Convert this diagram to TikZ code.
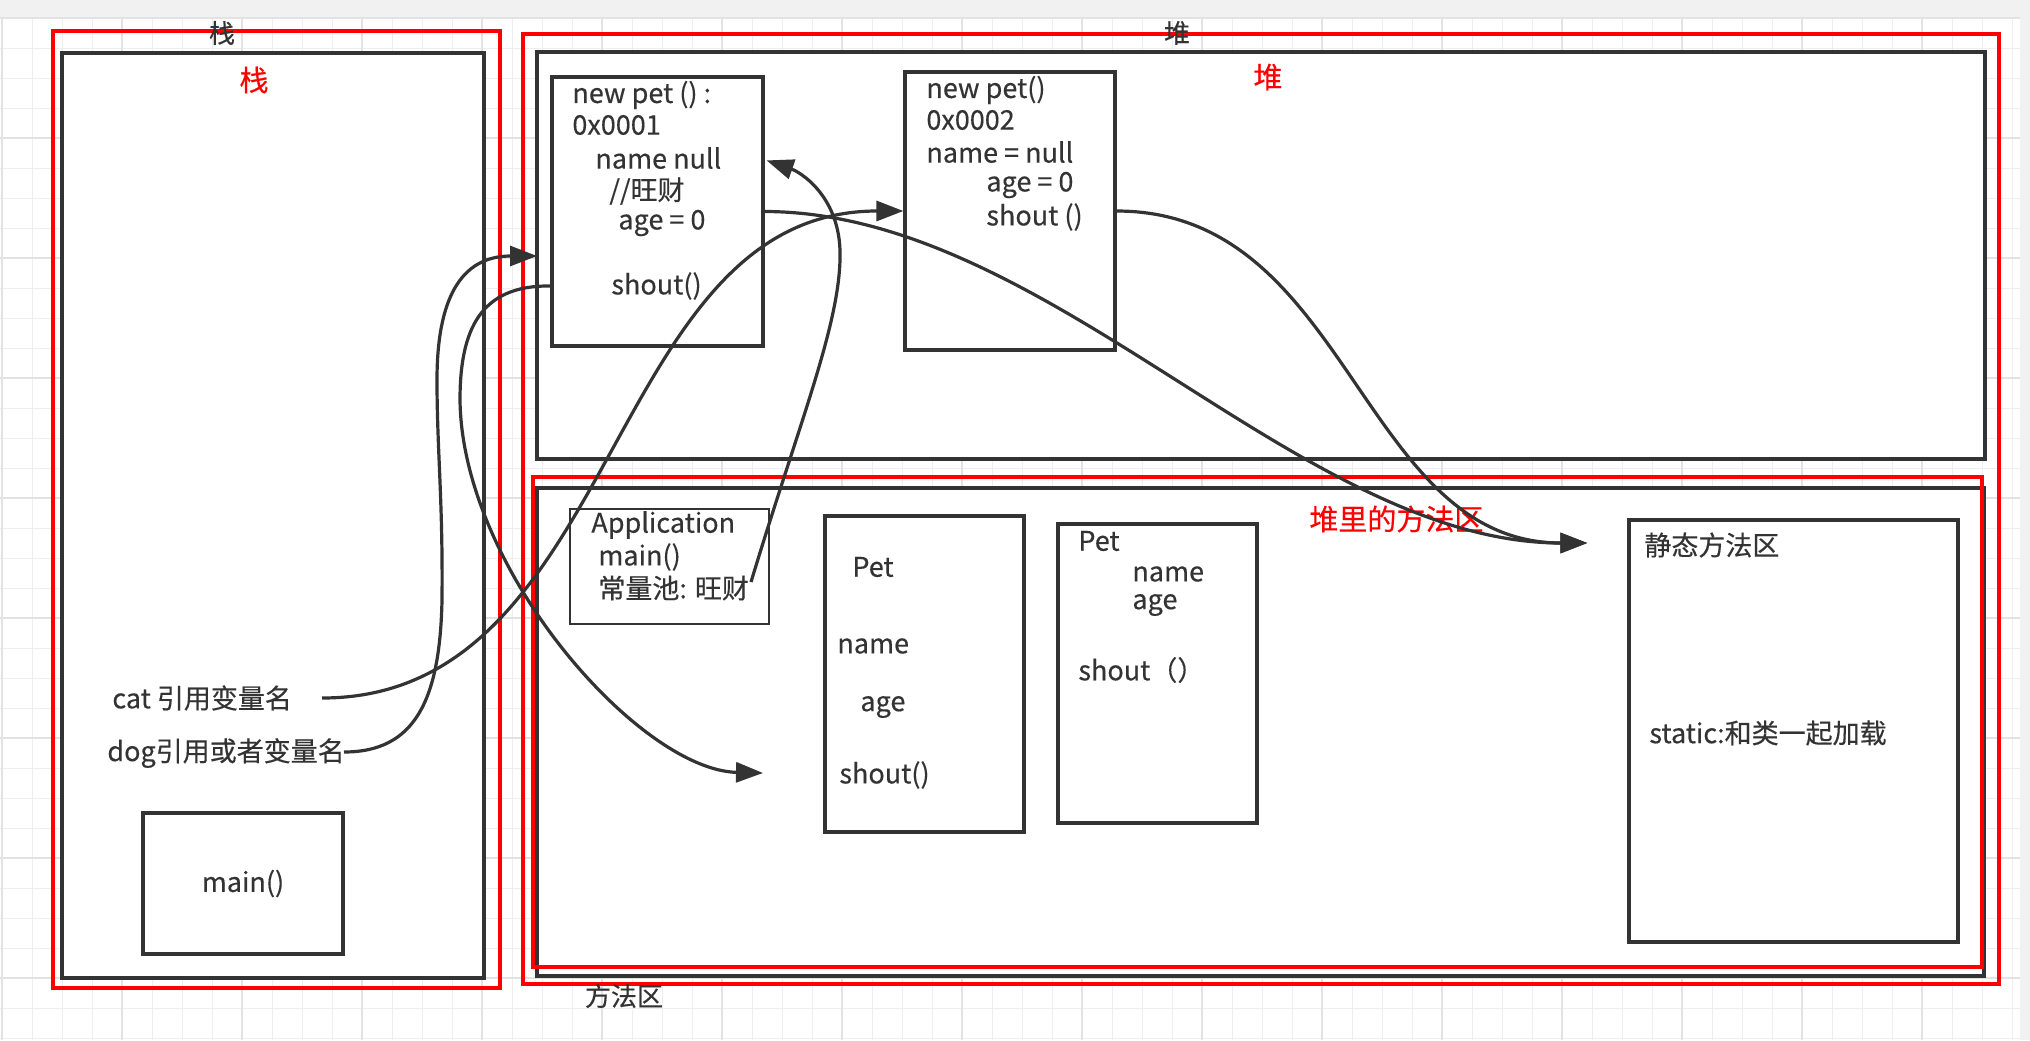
\documentclass[tikz,border=0pt]{standalone}
\usepackage{fontspec}
\setmainfont{Noto Sans CJK SC}[FakeBold=0.35]
\usetikzlibrary{arrows.meta,fit,calc}
\definecolor{dk}{HTML}{333333}
\definecolor{rd}{HTML}{FF0000}
\definecolor{gminor}{HTML}{EEEEEE}
\definecolor{gmajor}{HTML}{E2E2E2}
\definecolor{strip}{HTML}{F1F1F1}
\begin{document}
\begin{tikzpicture}[x=0.5pt,y=-0.5pt,
  box/.style={draw=dk, line width=1.6pt, fill=white, inner sep=0pt},
  thinbox/.style={draw=dk, line width=0.9pt, inner sep=0pt},
  redbox/.style={draw=rd, line width=1.6pt, inner sep=0pt},
  txt/.style={text=dk, font=\fontsize{13.5}{16}\selectfont, inner sep=0pt, anchor=west},
  lbl/.style={text=dk, font=\fontsize{13}{16}\selectfont, inner sep=0pt},
  redtxt/.style={text=rd, font=\fontsize{14.5}{17}\selectfont, inner sep=0pt},
  conn/.style={draw=dk, line width=1.6pt, -{Triangle[length=13.5pt,width=10pt]}}]
\useasboundingbox (0,0) rectangle (2030,1040);
% background and grid
\fill[white] (0,0) rectangle (2030,1040);
\foreach \xx in {2,32,...,2012} \draw[gminor, line width=0.5pt] (\xx,17) -- (\xx,1040);
\foreach \yy in {18,48,...,1038} \draw[gminor, line width=0.5pt] (0,\yy) -- (2020,\yy);
\foreach \xx in {2,122,...,1922} \draw[gmajor, line width=0.75pt] (\xx,17) -- (\xx,1040);
\foreach \yy in {18,138,...,978} \draw[gmajor, line width=0.75pt] (0,\yy) -- (2020,\yy);
\fill[strip] (0,0) rectangle (2030,17);
\fill[strip] (2020,0) rectangle (2030,1040);

% big regions
\node[box, fit={(62,53) (484,978)}] (stack) {};
\node[redbox, fit={(53,31) (500,988)}] (stackred) {};
\node[box, fit={(537,52) (1985,459)}] (heap) {};
\node[box, fit={(537,488) (1984,976)}] (method) {};
\node[redbox, fit={(533,477) (1982,967)}] (methodred) {};
\node[redbox, fit={(523,34) (1999,984)}] (heapred) {};

% inner boxes
\node[box, fit={(552,77) (763,346)}] (pet1) {};
\node[box, fit={(905,72) (1115,350)}] (pet2) {};
\node[thinbox, fit={(570,509) (769,624)}] (app) {};
\node[box, fit={(825,516) (1024,832)}] (petA) {};
\node[box, fit={(1058,524) (1257,823)}] (petB) {};
\node[box, fit={(1629,520) (1958,942)}] (static) {};
\node[box, fit={(143,813) (343,954)}] (mainbox) {};

% region labels
\node[lbl] (stacklbl) at (222,33) {栈};
\node[redtxt] (stackredlbl) at (254,80) {栈};
\node[lbl] (heaplbl) at (1177,33) {堆};
\node[redtxt] (heapredlbl) at (1268,77) {堆};
\node[lbl] (methodlbl) at (624,996) {方法区};
\node[redtxt, anchor=west] (heapmethod) at (1309,519) {堆里的方法区};

% stack texts
\node[txt] (cat) at (112,698) {cat 引用变量名};
\node[txt] (dog) at (107,753) {dog引用或者变量名};
\node[txt, anchor=center] (mainm) at (mainbox.center) {main()};

% pet1
\node[txt] (p1a) at (572,95) {new pet () :};
\node[txt] (p1b) at (572,125) {0x0001};
\node[txt] (p1c) at (595,158) {name null};
\node[txt] (p1d) at (609,191) {//旺财};
\node[txt] (p1e) at (618,223) {age = 0};
\node[txt] (p1f) at (611,286) {shout()};

% pet2
\node[txt] (p2a) at (926,90) {new pet()};
\node[txt] (p2b) at (926,120) {0x0002};
\node[txt] (p2c) at (926,152) {name = null};
\node[txt] (p2d) at (986,185) {age = 0};
\node[txt] (p2e) at (986,217) {shout ()};

% application
\node[txt] (ap1) at (591,525) {Application};
\node[txt] (ap2) at (598,557) {main()};
\node[txt] (ap3) at (598,588) {常量池: 旺财};

% Pet class A
\node[txt] (pa1) at (852,567) {Pet};
\node[txt] (pa2) at (837,646) {name};
\node[txt] (pa3) at (860,707) {age};
\node[txt] (pa4) at (839,775) {shout()};

% Pet class B
\node[txt] (pb1) at (1078,541) {Pet};
\node[txt] (pb2) at (1132,574) {name};
\node[txt] (pb3) at (1132,605) {age};
\node[txt] (pb4) at (1078,670) {shout（）};

% static area
\node[txt] (st1) at (1644,545) {静态方法区};
\node[txt] (st2) at (1649,733) {static:和类一起加载};

% connector end points
\coordinate (catStart) at ($(cat.west)+(210,0)$);
\coordinate (dogStart) at ($(dog.west)+(237,-1)$);
\coordinate (dogEnd) at (537,256);
\coordinate (shoutEnd) at ($(pa4.west)+(-76,-2)$);
\coordinate (appStart) at ($(ap3.west)+(153,-6)$);
\coordinate (pet1In) at ($(pet1.north east)+(2,85)$);
\coordinate (staticEnd) at ($(static.west |- st1.west)+(-40,-2)$);

% connectors
\draw[conn] (catStart) .. controls +(300,0) and +(-300,0) .. (pet2.west);
\draw[conn] (dogStart) .. controls (415,752) and (440,700) .. (442,600)
   .. controls (443,500) and (437,450) .. (437,380)
   .. controls (437,300) and (460,256) .. (dogEnd);
\draw[conn] (pet1.west |- p1f.west) .. controls (480,285) and (460,330) .. (460,400)
   .. controls (462,570) and (640,770) .. (shoutEnd);
\draw[conn] (appStart) .. controls (800,420) and (842,320) .. (840,250)
   .. controls (838,195) and (800,172) .. (pet1In);
\draw[conn] (pet1.east) .. controls (1050,212) and (1300,543) .. (staticEnd);
\draw[conn] (pet2.east) .. controls (1350,211) and (1360,543) .. (staticEnd);
\end{tikzpicture}
\end{document}
